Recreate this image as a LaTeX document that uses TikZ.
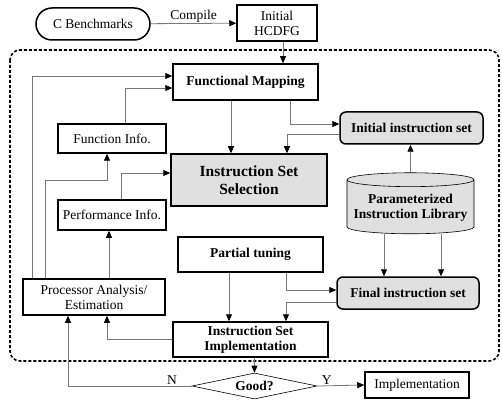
\documentclass[tikz,border=0pt]{standalone}
\usepackage{fontspec}
\setmainfont{Liberation Serif}
\usetikzlibrary{arrows.meta,shapes.geometric}
\definecolor{boxG}{RGB}{224,224,224}
\definecolor{lineG}{RGB}{120,120,120}

\begin{document}
\begin{tikzpicture}[x=1pt,y=-1pt,>={Triangle[length=7pt,width=6pt,color=black]},
  every node/.style={font=\fontsize{13.5}{15}\selectfont,align=center,inner sep=1pt},
  bf/.style={font=\fontsize{13.5}{15}\selectfont\bfseries},
  blk/.style={draw,line width=1.5pt,fill=white,minimum width=#1},
  hblk/.style={blk=#1,fill=boxG,rounded corners=6pt,bf},
  conn/.style={draw=lineG,line width=0.8pt,->},
  frame/.style={draw,line width=1.6pt,dash pattern=on 3pt off 2pt,rounded corners=10pt}]
\useasboundingbox (0,0) rectangle (502,403);
\draw[frame] (10,50) rectangle (499,361);
\node[blk=114pt,minimum height=32pt,rounded corners=16pt] (bench) at (93,24) {C Benchmarks};
\node[blk=80pt,minimum height=36pt] (hcdfg) at (277,23) {Initial\\HCDFG};
\node[blk=145pt,minimum height=36pt,bf] (fmap) at (245.5,82) {Functional Mapping};
\node[blk=108pt,minimum height=29pt] (finfo) at (112,138.5) {Function Info.};
\node[blk=156pt,minimum height=52pt,fill=boxG,font=\fontsize{15.5}{18}\selectfont\bfseries] (iss) at (249,180) {Instruction Set\\Selection};
\node[hblk=143pt,minimum height=32pt] (iis) at (411.5,128) {Initial instruction set};
\node[blk=108pt,minimum height=30pt] (pinfo) at (112,215) {Performance Info.};
\node[blk=145pt,minimum height=35pt,bf] (ptune) at (250.5,254.5) {Partial tuning};
\node[draw,fill=boxG,line width=0.6pt,cylinder,shape border rotate=90,aspect=0.12,
  minimum width=127pt,minimum height=61pt,bf] (lib) at (410.5,207.5) {Parameterized\\Instruction Library};
\node[hblk=142pt,minimum height=32pt] (fis) at (408,293) {Final instruction set};
\node[blk=155pt,minimum height=35pt,bf] (isimp) at (250.5,339.5) {Instruction Set\\Implementation};
\node[blk=142pt,minimum height=36pt] (proc) at (94,297) {Processor Analysis/\\Estimation};
\node[draw,fill=white,line width=0.6pt,diamond,aspect=4.8,inner sep=0pt,
  minimum width=125pt,minimum height=26pt,bf] (good) at (254.5,386) {Good?};
\node[blk=104pt,minimum height=26pt] (impl) at (417,385) {Implementation};

\draw[conn] (bench) -- node[above]{Compile} (hcdfg);
\draw[conn] ([xshift=6pt]hcdfg.south) -- ([xshift=6pt]hcdfg.south |- fmap.north);
\draw[conn] ([xshift=-62pt]proc.north) |- ([yshift=6pt]fmap.west);
\draw[conn] ([xshift=13pt]finfo.north) |- ([yshift=-6pt]fmap.west);
\draw[conn] ([xshift=-49pt]proc.north) |- (107,180) -- ([xshift=-5pt]finfo.south);
\draw[conn] ([xshift=9pt]pinfo.north) |- ([yshift=7pt]iss.west);
\draw[conn] ([xshift=15pt]proc.north) -- ([xshift=-3pt]pinfo.south);
\draw[conn] ([xshift=-14.5pt]fmap.south) -- ([xshift=-14.5pt]fmap.south |- iss.north);
\draw[conn] ([xshift=44.5pt]fmap.south) |- ([yshift=4pt]iis.west);
\draw[conn] ([yshift=-6pt]iis.west) -| ([xshift=38pt]iss.north);
\draw[conn] (lib.north) -- (lib.north |- iis.south);
\draw[conn] ([xshift=-26.5pt]lib.south) -- ([xshift=-26.5pt]lib.south |- fis.north);
\draw[conn] ([xshift=30.5pt]lib.south) -- ([xshift=30.5pt]lib.south |- fis.north);
\draw[conn] ([xshift=-21.5pt]ptune.south) -- ([xshift=-21.5pt]ptune.south |- isimp.north);
\draw[conn] ([xshift=35.5pt]ptune.south) |- ([yshift=3pt]fis.west);
\draw[conn] ([yshift=-9pt]fis.west) -| ([xshift=35.5pt]isimp.north);
\draw[conn] (isimp.west) -| ([xshift=13pt]proc.south);
\draw[conn] (isimp.south -| good.north) -- (good.north);
\draw[conn] (good.west) -| node[pos=0.08,above]{N} ([xshift=-26pt]proc.south);
\draw[conn] (good.east) -- node[pos=0.2,above]{Y} (impl.west);
\end{tikzpicture}
\end{document}
